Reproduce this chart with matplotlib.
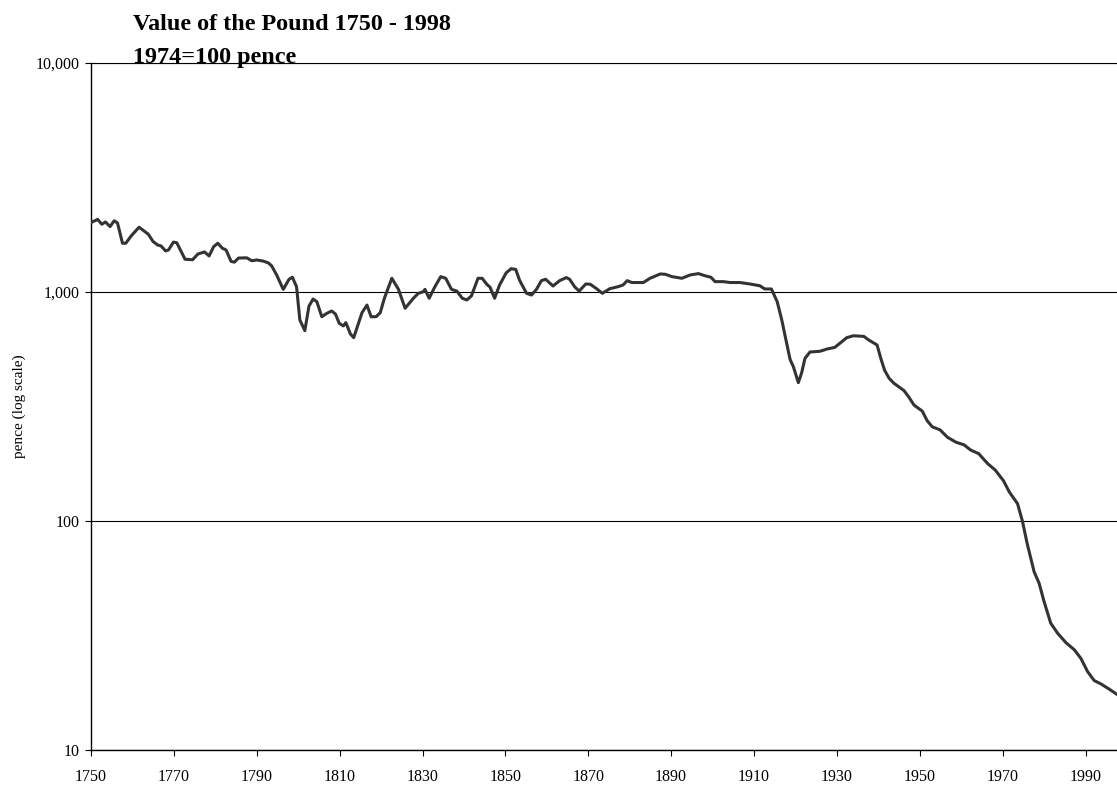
import matplotlib.pyplot as plt
from matplotlib.ticker import FixedLocator, FuncFormatter

# value of the pound, pence (1974 = 100)
years = [1750, 1751.6, 1752.6, 1753.5, 1754.6, 1755.6, 1756.4, 1757.6, 1758.4, 1759.7,
         1761.6, 1763, 1763.8, 1765, 1766.1, 1766.9, 1768, 1768.7, 1769.9, 1770.7,
         1772.7, 1774.5, 1775.8, 1777.4, 1778.5, 1779.6, 1780.6, 1781.7, 1782.6, 1783.8,
         1784.6, 1785.6, 1787.6, 1788.8, 1790, 1791.6, 1792.8, 1793.6, 1794.8, 1796.4,
         1797.8, 1798.6, 1799.6, 1800.4, 1801.6, 1802.6, 1803.6, 1804.5, 1805.7, 1806.9,
         1808.1, 1809, 1809.9, 1810.9, 1811.5, 1812.6, 1813.4, 1815.4, 1816.6, 1817.6,
         1818.8, 1819.8, 1820.8, 1822.6, 1824.2, 1825.8, 1827.8, 1829, 1830.2, 1830.6,
         1831.6, 1833, 1834.4, 1835.6, 1837, 1838.3, 1839.6, 1840.7, 1841.8, 1843.4,
         1844.4, 1845.5, 1846.3, 1847.4, 1848.6, 1850.2, 1851.4, 1852.5, 1853.4, 1855.1,
         1856.3, 1857.5, 1858.7, 1859.7, 1861.5, 1863.1, 1864.7, 1865.5, 1866.7, 1867.8,
         1869.4, 1870.5, 1872, 1873.4, 1875.2, 1877.2, 1878.4, 1879.4, 1880.5, 1881.7,
         1883.3, 1884.9, 1887.4, 1888.6, 1890.2, 1892.6, 1894.6, 1896.6, 1898.2, 1899.6,
         1900.6, 1902.6, 1904.2, 1906.6, 1909, 1911.4, 1912.6, 1914.2, 1915.6, 1916.7,
         1917.9, 1918.7, 1919.5, 1920.7, 1921.5, 1922.3, 1923.5, 1925.9, 1927.7, 1929.5,
         1931.2, 1932.4, 1934, 1936.5, 1937.7, 1939.7, 1940.6, 1941.5, 1942.6, 1943.8,
         1946.2, 1947.4, 1948.6, 1950.6, 1951.8, 1953, 1954.9, 1956.7, 1958.7, 1960.7,
         1962.3, 1964.2, 1966.4, 1968.2, 1970.2, 1971.6, 1973.6, 1974.8, 1975.9, 1977.6,
         1978.8, 1980, 1981.6, 1983.3, 1985.3, 1987.3, 1988.9, 1990.5, 1992.1, 1993.8,
         1995.8, 1997.8]
pence = [2010, 2075, 1977, 2022, 1930, 2047, 2000, 1633, 1633, 1758,
         1918, 1834, 1790, 1660, 1604, 1589, 1511, 1526, 1652, 1640,
         1390, 1383, 1465, 1496, 1437, 1578, 1633, 1553, 1526, 1361,
         1350, 1407, 1410, 1369, 1380, 1364, 1340, 1300, 1187, 1027,
         1137, 1160, 1055, 755, 678, 868, 932, 907, 780, 807,
         826, 801, 730, 711, 735, 656, 632, 812, 877, 780,
         780, 812, 939, 1148, 1027, 849, 939, 987, 1003, 1027,
         939, 1055, 1167, 1148, 1027, 1009, 939, 923, 961, 1148,
         1148, 1081, 1050, 939, 1073, 1213, 1264, 1255, 1128, 987,
         970, 1027, 1121, 1137, 1062, 1121, 1156, 1137, 1055, 1009,
         1084, 1081, 1034, 987, 1034, 1055, 1073, 1121, 1100, 1100,
         1100, 1148, 1199, 1195, 1167, 1148, 1187, 1203, 1177, 1160,
         1110, 1110, 1100, 1100, 1084, 1065, 1031, 1031, 907, 755,
         597, 508, 472, 402, 444, 513, 547, 551, 564, 573,
         607, 632, 644, 640, 617, 587, 513, 456, 420, 399,
         371, 347, 321, 302, 274, 258, 250, 232, 221, 215,
         204, 197, 178, 167, 150, 134, 119, 99.5, 80, 60,
         53.5, 44.5, 35.8, 32.3, 29.4, 27.4, 25.1, 22.0, 20.1, 19.4,
         18.4, 17.4]

x_ticks = list(range(1750, 1991, 20))
y_ticks = [10, 100, 1000, 10000]

plt.rcParams['font.family'] = ['Liberation Serif', 'DejaVu Serif']

fig = plt.figure(figsize=(11.17, 7.89), dpi=100)
ax = fig.add_axes([91 / 1117, 1 - 750 / 789, 1 - 91 / 1117, (750 - 63) / 789])

ax.plot(years, pence, color='#333333', lw=2.2, solid_joinstyle='round', zorder=3)

ax.set_yscale('log')
ax.set_ylim(10, 10000)
ax.set_xlim(1750, 1997.6)
ax.yaxis.set_major_locator(FixedLocator(y_ticks))
ax.yaxis.set_minor_locator(FixedLocator([]))
ax.yaxis.set_major_formatter(FuncFormatter(lambda v, p: f'{int(v):,}'))
ax.set_xticks(x_ticks)
ax.grid(axis='y', color='black', lw=0.8)
ax.set_axisbelow(True)

ax.spines['right'].set_visible(False)
ax.spines['top'].set_linewidth(0.8)
ax.spines['left'].set_linewidth(1.0)
ax.spines['bottom'].set_linewidth(1.0)
ax.tick_params(direction='out', length=4, width=0.8, labelsize=11.5, colors='black')
ax.tick_params(axis='x', pad=10)
ax.tick_params(axis='y', pad=4)

ax.set_ylabel('pence (log scale)', fontsize=11, va='center')
ax.yaxis.set_label_coords((19.5 - 91) / 1026, 0.5)

fig.text(133 / 1117, 1 - 30 / 789, 'Value of the Pound 1750 - 1998', fontsize=17.4,
         fontweight='bold', va='baseline', ha='left')
fig.text(133 / 1117, 1 - 63 / 789, '1974=100 pence', fontsize=17.4,
         fontweight='bold', va='baseline', ha='left')

fig.savefig('out.png', dpi=100)
